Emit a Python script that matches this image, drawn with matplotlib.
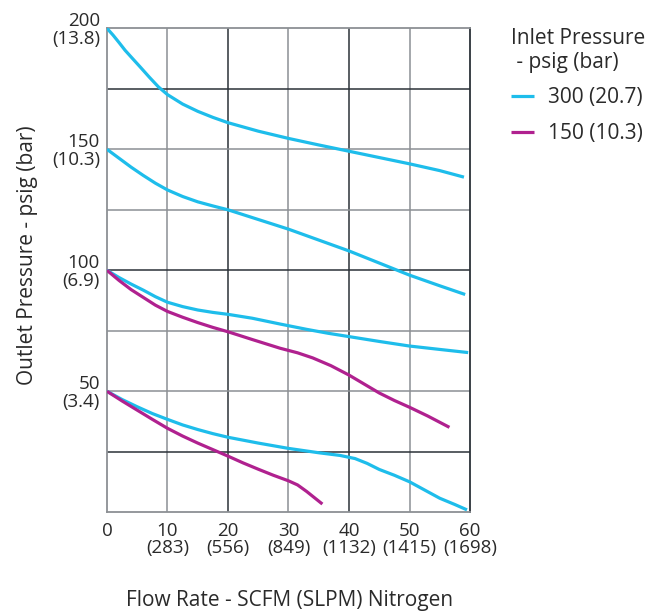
import matplotlib
matplotlib.use('Agg')
import matplotlib.pyplot as plt

# ---- datos ----
flujo_ticks = [0, 10, 20, 30, 40, 50, 60]
flujo_labels = ['0', '10\n(283)', '20\n(556)', '30\n(849)', '40\n(1132)', '50\n(1415)', '60\n(1698)']
presion_ticks = [50, 100, 150, 200]
presion_labels = ['50\n(3.4)', '100\n(6.9)', '150\n(10.3)', '200\n(13.8)']

# entrada 300 psig (20.7 bar)
x_300_200 = [0, 1, 2, 3, 4.3, 5.5, 7, 8.5, 10, 12.5, 15, 17.5, 20, 25, 30, 35, 40, 45, 50, 55, 59]
y_300_200 = [200, 197.2, 194.1, 190.9, 187.3, 184, 179.8, 175.8, 172.6, 168.7, 165.7, 163.2, 161, 157.5, 154.5, 151.8, 149.2, 146.6, 144, 141.2, 138.5]

x_300_150 = [0, 2, 4, 6, 8, 10, 12.5, 15, 17.5, 20, 25, 30, 35, 40, 45, 50, 55, 59.2]
y_300_150 = [150, 146.3, 142.6, 139.2, 136, 133.2, 130.5, 128.3, 126.6, 125, 121, 117, 112.5, 108, 103, 98, 93.6, 90]

x_300_100 = [0, 2, 4, 6, 8, 10, 12.5, 15, 17.5, 20, 24, 28.6, 33, 36.5, 40, 45, 50, 55, 59.7]
y_300_100 = [100, 97, 94.3, 91.8, 89.1, 86.8, 85, 83.6, 82.6, 81.8, 80.2, 77.8, 75.6, 74, 72.6, 70.6, 68.7, 67.3, 66]

x_300_50 = [0, 2.5, 5, 7.5, 10, 12.5, 15, 17.5, 20, 25, 30, 35, 38.5, 41, 43, 45, 47.5, 50, 52.5, 55, 57.5, 59.5]
y_300_50 = [50, 46.6, 43.6, 40.8, 38.4, 36.1, 34.2, 32.5, 31, 28.6, 26.4, 24.6, 23.5, 22.2, 20.2, 17.7, 15.3, 12.6, 9.2, 5.8, 3.2, 1]

# entrada 150 psig (10.3 bar)
x_150_100 = [0, 2, 4, 6, 8, 10, 12.5, 15, 17.5, 20, 24, 28.6, 31.5, 34, 37, 40, 42.5, 45, 47.5, 50, 53, 56.6]
y_150_100 = [100, 95.8, 92, 88.8, 85.6, 83, 80.6, 78.4, 76.4, 74.6, 71.4, 67.8, 65.9, 63.8, 60.6, 56.7, 53, 49.3, 46.2, 43.4, 39.8, 35.1]

x_150_50 = [0, 2.5, 5, 7.5, 10, 12.5, 15, 17.5, 20, 22.5, 25, 27.5, 30, 31.5, 33, 34.3, 35.6]
y_150_50 = [50, 46, 42.2, 38.4, 34.7, 31.5, 28.6, 25.9, 23.2, 20.4, 17.8, 15.3, 13, 11.3, 8.6, 6, 3.4]

azul = '#1ebdeb'
magenta = '#b0218f'
texto = '#2a2a2a'
oscuro = '#2b3238'
gris = '#8c9094'

plt.rcParams['font.family'] = ['Open Sans', 'DejaVu Sans']

fig = plt.figure(figsize=(6.62, 6.13), dpi=100)
ax = fig.add_axes([0.1616, 0.1643, 0.5484, 0.7895])

# rejilla con lineas alternadas oscuras y grises
for xv, c in [(10, gris), (20, oscuro), (30, gris), (40, oscuro), (50, gris)]:
    ax.axvline(xv, color=c, linewidth=1.1, zorder=1)
for yv, c in [(25, oscuro), (50, gris), (75, gris), (100, oscuro), (125, gris), (150, gris), (175, oscuro)]:
    ax.axhline(yv, color=c, linewidth=1.1, zorder=1)

estilo = dict(lw=2.3, solid_capstyle='butt', solid_joinstyle='round')
ax.plot(x_300_200, y_300_200, color=azul, label='300 (20.7)', zorder=3, **estilo)
ax.plot(x_300_150, y_300_150, color=azul, zorder=3, **estilo)
ax.plot(x_300_100, y_300_100, color=azul, zorder=3, **estilo)
ax.plot(x_300_50, y_300_50, color=azul, zorder=3, **estilo)
ax.plot(x_150_100, y_150_100, color=magenta, label='150 (10.3)', zorder=4, **estilo)
ax.plot(x_150_50, y_150_50, color=magenta, zorder=4, **estilo)

ax.set_xlim(0, 60)
ax.set_ylim(0, 200)
ax.set_xticks(flujo_ticks)
ax.set_xticklabels(flujo_labels, fontsize=13.5, color=texto, linespacing=0.95)
ax.set_yticks(presion_ticks)
ax.set_yticklabels(presion_labels, fontsize=13.5, color=texto, linespacing=0.95)
ax.tick_params(axis='y', length=0, pad=5)
ax.tick_params(axis='x', length=0, pad=7)

for lado in ['left', 'top', 'bottom']:
    ax.spines[lado].set_color(gris)
    ax.spines[lado].set_linewidth(1.3)
ax.spines['right'].set_color(oscuro)
ax.spines['right'].set_linewidth(1.3)

fig.text(0.041, 0.584, 'Outlet Pressure - psig (bar)', rotation=90, ha='center', va='center',
         fontsize=15, color=texto)
fig.text(0.438, 0.021, 'Flow Rate - SCFM (SLPM) Nitrogen', ha='center', va='center',
         fontsize=15, color=texto)

leg = ax.legend(loc='upper left', bbox_to_anchor=(0.756, 0.972), bbox_transform=fig.transFigure,
                frameon=False, title='Inlet Pressure\n - psig (bar)', fontsize=15,
                title_fontsize=15, handlelength=1.1, handletextpad=0.7, labelspacing=0.7,
                borderpad=0, alignment='left')
for t in leg.get_texts():
    t.set_color(texto)
leg.get_title().set_color(texto)

fig.savefig('out.png', dpi=100)
